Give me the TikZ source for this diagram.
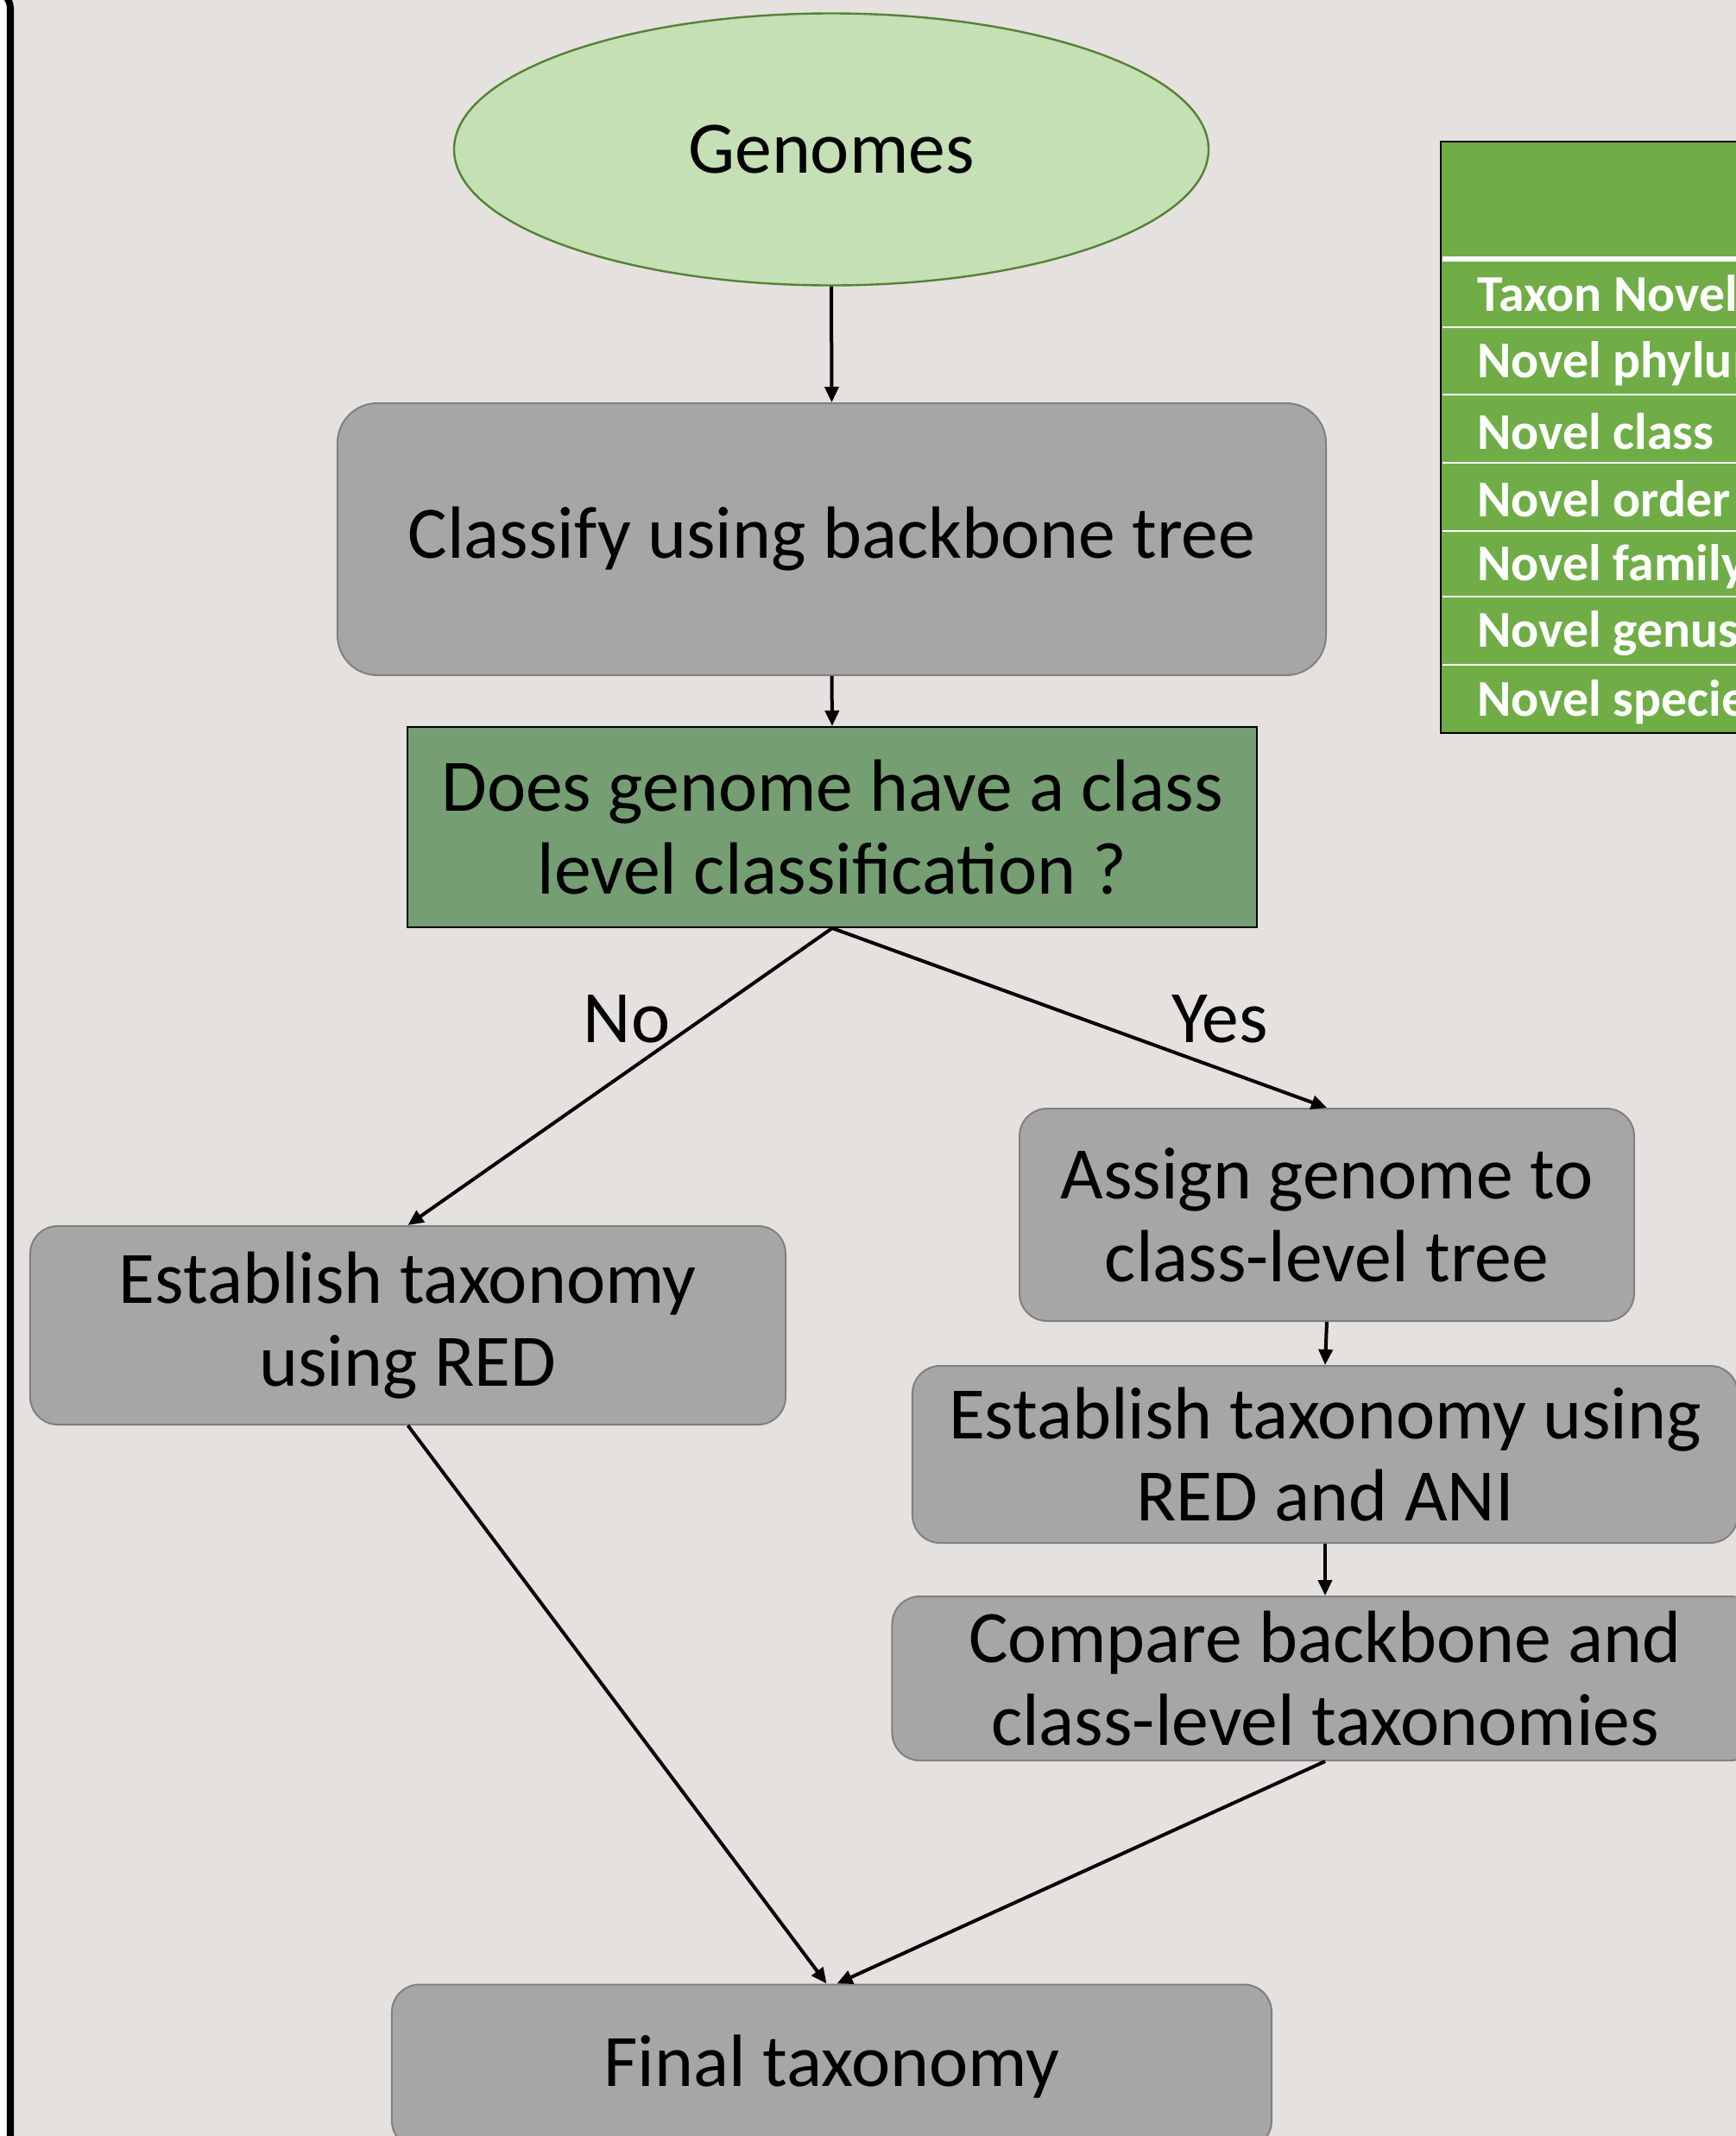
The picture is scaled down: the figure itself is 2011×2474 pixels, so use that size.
\documentclass[tikz,border=0pt]{standalone}
\usepackage{fontspec}
\setmainfont{Carlito}
\usetikzlibrary{shapes.geometric,arrows.meta}
\definecolor{bg}{RGB}{229,225,222}
\definecolor{boxgray}{RGB}{166,166,166}
\definecolor{boxedge}{RGB}{128,128,128}
\definecolor{ellfill}{RGB}{197,224,180}
\definecolor{elledge}{RGB}{84,130,53}
\definecolor{decfill}{RGB}{117,158,115}
\definecolor{tabgreen}{RGB}{112,173,71}
\tikzset{
  procbox/.style={draw=boxedge, line width=1bp, fill=boxgray, rounded corners=16bp, align=center, inner sep=0pt, font=\fontsize{43}{48}\selectfont},
  flow/.style={line width=2bp, -{Triangle[length=9bp,width=8bp]}},
  tabtext/.style={anchor=west, text=white, font=\fontsize{30}{34}\selectfont\bfseries, inner sep=0pt},
  lbl/.style={font=\fontsize{43}{48}\selectfont, inner sep=0pt}
}
\begin{document}
\begin{tikzpicture}[x=0.5bp,y=-0.5bp]
\useasboundingbox (0,0) rectangle (2011,2474);
\clip (0,0) rectangle (2011,2474);
\fill[bg] (0,0) rectangle (2011,2474);
% left panel edge
\draw[line width=4bp, fill=white, rounded corners=11bp] (-200,-12) rectangle (12,2700);
% table
\fill[tabgreen] (1669,164) rectangle (2100,849);
\draw[line width=1.2bp] (2100,164) -- (1669,164) -- (1669,849) -- (2100,849);
\draw[white, line width=3bp] (1671,300) -- (2100,300);
\foreach \yy in {379,457,536,615,691,770} {\draw[white, line width=1bp] (1671,\yy) -- (2100,\yy);}
\node[tabtext] (t1) at (1711,344) {Taxon Novelty};
\node[tabtext] (t2) at (1711,421) {Novel phylum};
\node[tabtext] (t3) at (1711,500) {Novel class};
\node[tabtext] (t4) at (1711,578) {Novel order};
\node[tabtext] (t5) at (1711,656) {Novel family};
\node[tabtext] (t6) at (1711,734) {Novel genus};
\node[tabtext] (t7) at (1711,813) {Novel species};
% nodes
\node[ellipse, draw=elledge, line width=1.2bp, fill=ellfill, minimum width=437bp, minimum height=157.5bp, inner sep=0pt, font=\fontsize{43}{48}\selectfont] (gen) at (963,173) {Genomes};
\node[procbox, rounded corners=23bp, minimum width=572.5bp, minimum height=157.5bp] (cls) at (963.5,624.5) {Classify using backbone tree};
\node[draw=black, line width=1bp, fill=decfill, minimum width=492bp, minimum height=116bp, align=center, inner sep=0pt, font=\fontsize{43}{48}\selectfont] (dec) at (964,958) {Does genome have a class\\level classification ?};
\node[procbox, minimum width=437.5bp, minimum height=115bp] (red) at (472.5,1535) {Establish taxonomy\\using RED};
\node[procbox, minimum width=356bp, minimum height=123bp] (asg) at (1537,1407) {Assign genome to\\class-level tree};
\node[procbox, minimum width=478bp, minimum height=102.5bp] (ani) at (1535,1684.5) {Establish taxonomy using\\RED and ANI};
\node[procbox, minimum width=501.5bp, minimum height=95bp] (cmp) at (1535,1944) {Compare backbone and\\class-level taxonomies};
\node[procbox, minimum width=509.5bp, minimum height=95bp] (fin) at (963.5,2393.5) {Final taxonomy};
% labels
\node[lbl] (no) at (726,1180) {No};
\node[lbl] (yes) at (1413,1180) {Yes};
% connectors
\draw[flow] (gen.south) -- (cls.north);
\draw[flow] (cls.south) -- (dec.north);
\draw[flow] (dec.south) -- (red.north);
\draw[flow] (dec.south) -- (asg.north);
\draw[flow] (asg.south) -- (ani.north);
\draw[flow] (ani.south) -- (cmp.north);
\draw[flow] (red.south) -- ([xshift=-3bp]fin.north);
\draw[flow] (cmp.south) -- ([xshift=3bp]fin.north);
\end{tikzpicture}
\end{document}
